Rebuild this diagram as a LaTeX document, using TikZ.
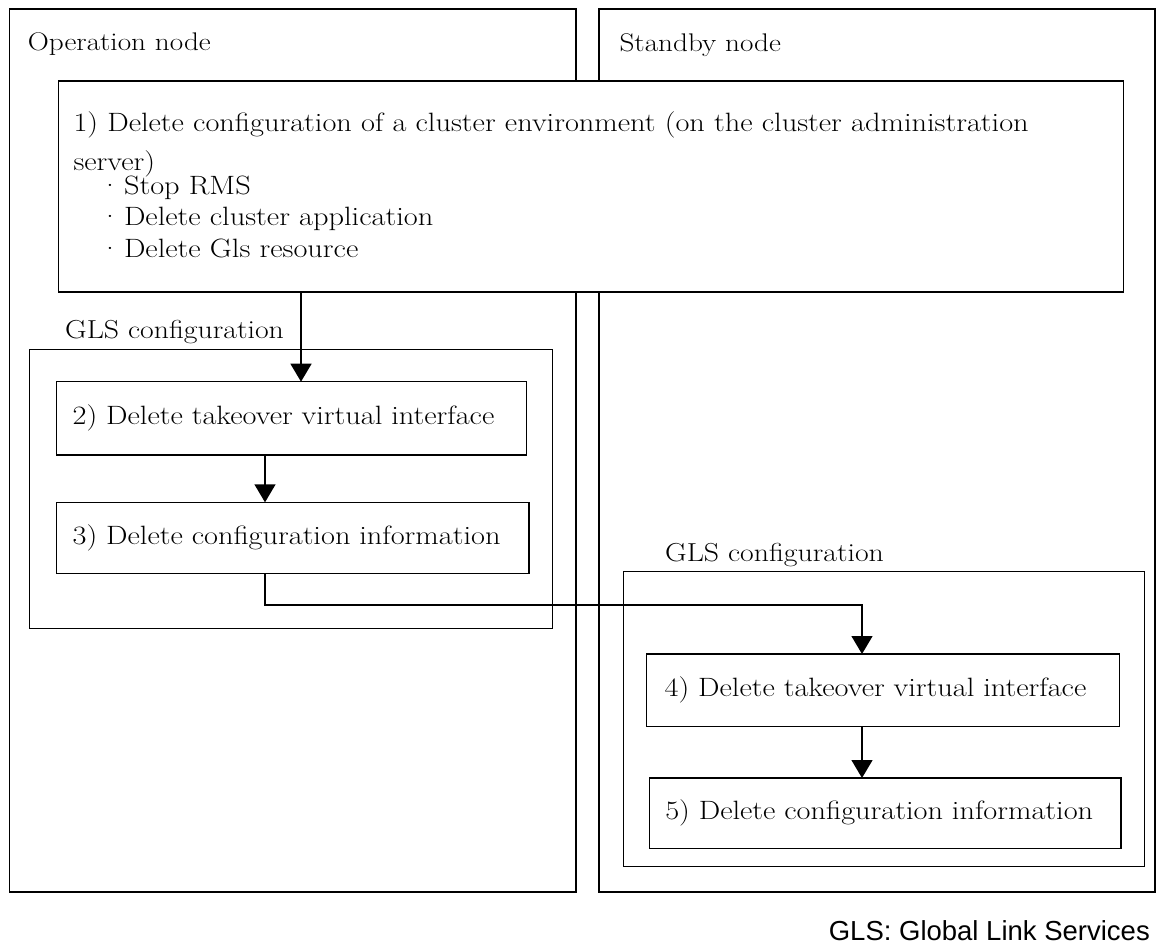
\documentclass[tikz,border=0pt]{standalone}
\usepackage{fontspec}
\newfontfamily\footfont{Liberation Sans}
\newfontfamily\diagfont{Latin Modern Roman}[FakeStretch=1.145]
\usetikzlibrary{arrows.meta}
\begin{document}
\begin{tikzpicture}[x=1pt,y=-1pt,
  frame/.style={draw, line width=1.4pt, anchor=north west, inner sep=0pt, outer sep=0pt},
  txt/.style={anchor=base west, inner sep=0pt, font=\diagfont\fontsize{26.5}{32}\selectfont},
  lbl/.style={txt, font=\diagfont\fontsize{25.5}{32}\selectfont},
  glslbl/.style={txt, font=\diagfont\fontsize{26}{32}\selectfont},
  stepbox/.style={draw, line width=1.4pt, anchor=north west, outer sep=0pt, inner xsep=16pt, inner ysep=0pt, align=left, font=\diagfont\fontsize{26.5}{32}\selectfont},
  arr/.style={line width=1.4pt, -{Triangle[width=21pt,length=18pt]}},
]
\useasboundingbox (0,0) rectangle (1157,945);
% outer node frames
\node[frame, minimum width=566.7pt, minimum height=883pt] (op) at (9.3,9) {};
\node[frame, minimum width=556pt, minimum height=883pt] (sb) at (599,9) {};
\node[lbl] (opl) at (27.7,50.7) {Operation node};
\node[lbl] (sbl) at (619.3,51.7) {Standby node};
% step 1
\node[frame, fill=white, minimum width=1065pt, minimum height=211pt] (s1) at (58.7,81) {};
\node[txt] (t1a) at (73.3,131.7) {1) Delete configuration of a cluster environment (on the cluster administration};
\node[txt] (t1b) at (73.3,170.7) {server)};
\node[txt] (t1c) at (99,194.5) {·\hspace{3pt}Stop RMS};
\node[txt] (t1d) at (99,225.7) {·\hspace{3pt}Delete cluster application};
\node[txt] (t1e) at (99,257.5) {·\hspace{3pt}Delete Gls resource};
% GLS configuration, operation node
\node[glslbl] (g1l) at (65,338.3) {GLS configuration};
\node[frame, minimum width=523.4pt, minimum height=279pt] (g1) at (29.3,349.3) {};
\node[stepbox, text width=438pt, minimum height=73.3pt] (b2) at (56.7,381.7) {2) Delete takeover virtual interface};
\node[stepbox, text width=440.3pt, minimum height=71pt] (b3) at (56.7,502.3) {3) Delete configuration information};
% GLS configuration, standby node
\node[glslbl] (g2l) at (665,561.7) {GLS configuration};
\node[frame, minimum width=521pt, minimum height=295.2pt] (g2) at (623.3,571.5) {};
\node[stepbox, inner xsep=18pt, text width=436.6pt, minimum height=72.7pt] (b4) at (646.7,654) {4) Delete takeover virtual interface};
\node[stepbox, text width=439.7pt, minimum height=70.3pt] (b5) at (649.3,778) {5) Delete configuration information};
% connectors
\coordinate (x1) at (301,0);
\coordinate (x2) at (265,0);
\coordinate (x4) at (862,0);
\coordinate (y4) at (0,605);
\draw[arr] (s1.south -| x1) -- (b2.north -| x1);
\draw[arr] (b2.south -| x2) -- (b3.north -| x2);
\draw[arr] (b3.south -| x2) |- (y4 -| x4) -- (b4.north -| x4);
\draw[arr] (b4.south -| x4) -- (b5.north -| x4);
% footer
\node[anchor=base east, inner sep=0pt, font=\footfont\fontsize{27.5}{32}\selectfont] (foot) at (1150,940) {GLS: Global Link Services};
\end{tikzpicture}
\end{document}
